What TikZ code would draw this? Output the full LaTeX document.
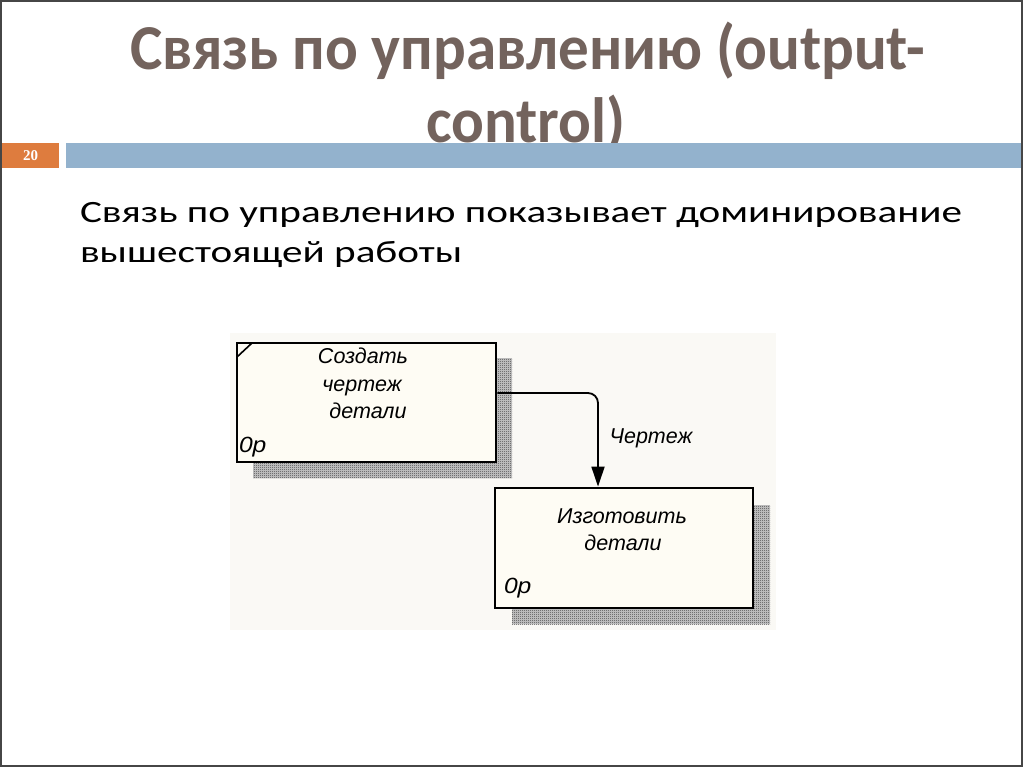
\documentclass[tikz,border=0pt]{standalone}
\usepackage{graphicx}
\usepackage{fontspec}
\setmainfont{Carlito}
\newfontfamily\diafont{Liberation Sans}
\newfontfamily\numfont{Liberation Serif}
\usetikzlibrary{arrows.meta,patterns}
\definecolor{titlecol}{RGB}{115,99,93}
\definecolor{orangebar}{RGB}{222,124,62}
\definecolor{bluebar}{RGB}{147,178,205}
\definecolor{cream}{RGB}{254,252,244}
\definecolor{diabg}{RGB}{250,249,245}
\definecolor{framecol}{RGB}{70,70,70}
\pgfdeclarepatternformonly{checker}{\pgfqpoint{0pt}{0pt}}{\pgfqpoint{2pt}{2pt}}{\pgfqpoint{2pt}{2pt}}{%
  \pgfpathrectangle{\pgfqpoint{0pt}{0pt}}{\pgfqpoint{1pt}{1pt}}%
  \pgfpathrectangle{\pgfqpoint{1pt}{1pt}}{\pgfqpoint{1pt}{1pt}}%
  \pgfusepath{fill}}
\newsavebox\fitbox
\newcommand\fitto[2]{\sbox\fitbox{#2}\pgfmathsetmacro\fitsx{#1/\the\wd\fitbox}\global\let\lastsx\fitsx\scalebox{\fitsx}[1]{\usebox\fitbox}}
\newcommand\samescale[1]{\scalebox{\lastsx}[1]{#1}}
\tikzset{
  txt/.style={inner sep=0pt, outer sep=0pt},
  titletxt/.style={txt, anchor=base, text=titlecol, font=\fontsize{64}{75}\selectfont\bfseries},
  bodytxt/.style={txt, anchor=base west, text=black, font=\fontsize{31}{40}\selectfont},
  actbox/.style={draw=black, line width=2.8pt, fill=cream, inner sep=0pt},
  shadowbase/.style={fill=gray!40},
  shadowbox/.style={pattern=checker, pattern color=black!75},
  diatxt/.style={txt, anchor=base, font=\diafont\itshape\fontsize{21.5}{26}\selectfont},
  numtxt/.style={txt, anchor=base west, font=\diafont\itshape\fontsize{22}{26}\selectfont},
  arrowline/.style={draw=black, line width=1.8pt, rounded corners=10pt, -{Triangle[width=13pt,length=20pt]}},
}
\begin{document}
\begin{tikzpicture}[x=1pt,y=-1pt]
\useasboundingbox (0,0) rectangle (1024,768);
\fill[white] (0,0) rectangle (1024,768);
\draw[framecol, line width=1.5pt] (1,1) rectangle (1022,766);
% title
\node[titletxt] (title1) at (527.5,69) {\fitto{795}{Связь по управлению (output-}};
\node[titletxt] (title2) at (526,142) {\samescale{control)}};
% bars
\node[fill=orangebar, minimum width=57pt, minimum height=25pt, inner sep=0pt, anchor=north west] (numbox) at (2,143) {};
\node[txt, text=white, font=\numfont\bfseries\fontsize{15}{18}\selectfont] (num) at (numbox.center) {20};
\node[fill=bluebar, minimum width=955pt, minimum height=25pt, inner sep=0pt, anchor=north west] (bar) at (66,143) {};
% body text
\node[bodytxt] (body1) at (80,222) {\fitto{882}{Связь по управлению показывает доминирование}};
\node[bodytxt] (body2) at (80,262) {\samescale{вышестоящей работы}};
% diagram background
\fill[diabg] (230,333) rectangle (776,630);
% shadows
\fill[shadowbase] (253,358) rectangle (512,478);
\fill[shadowbox] (253,358) rectangle (512,478);
\fill[shadowbase] (512,505) rectangle (770,624);
\fill[shadowbox] (512,505) rectangle (770,624);
% boxes
\node[actbox, minimum width=259pt, minimum height=119pt] (box1) at (366.5,402.5) {};
\node[actbox, minimum width=258pt, minimum height=120pt] (box2) at (624,548) {};
\coordinate (c1a) at (237,357);
\coordinate (c1b) at (252,343);
\draw[line width=1.6pt] (c1a) -- (c1b);
% box texts
\node[diatxt] (t1a) at (363,363) {Создать};
\node[diatxt] (t1b) at (362,391) {чертеж};
\node[diatxt] (t1c) at (368,418) {детали};
\node[numtxt] (n1) at (239,452) {\scalebox{1.12}[1]{0p}};
\node[diatxt] (t2a) at (622,523) {Изготовить};
\node[diatxt] (t2b) at (623,550) {детали};
\node[numtxt] (n2) at (504,593) {\scalebox{1.12}[1]{0p}};
% arrow
\draw[arrowline] ([yshift=9.5pt]box1.east) -| ([xshift=-26pt]box2.north);
\node[diatxt] (lbl) at (651,443) {Чертеж};
\end{tikzpicture}
\end{document}
